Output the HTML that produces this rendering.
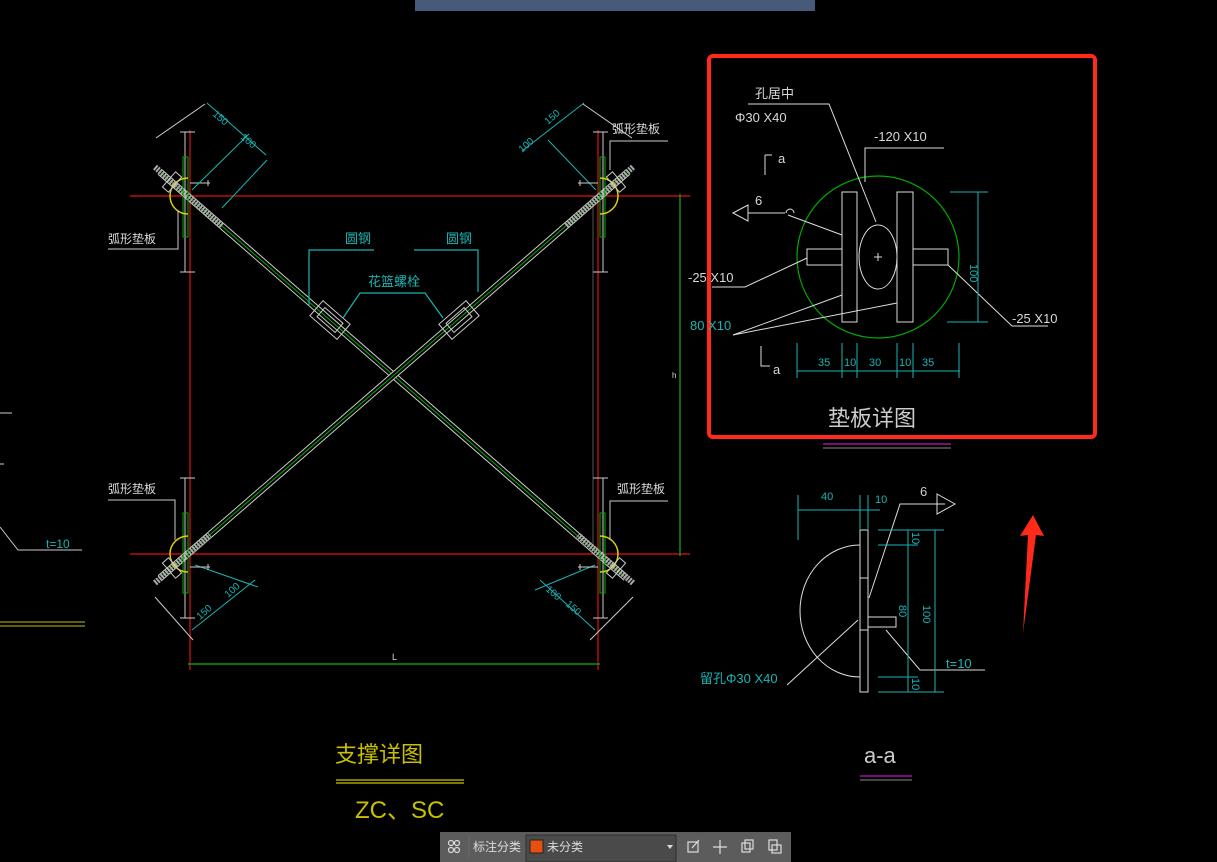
<!DOCTYPE html>
<html><head><meta charset="utf-8"><style>
html,body{margin:0;padding:0;background:#000;width:1217px;height:862px;overflow:hidden}
svg{display:block}
text{font-family:"Liberation Sans Narrow","Liberation Sans","Noto Sans CJK SC",sans-serif}
.c{fill:#19b4b4}.w{fill:#d8d8d8}
</style></head><body>
<svg width="1217" height="862" viewBox="0 0 1217 862" xmlns="http://www.w3.org/2000/svg">
<rect width="1217" height="862" fill="#000"/>
<rect x="415" y="0" width="400" height="11" fill="#475a7a"/>
<g stroke="#e01010" stroke-width="1.2" fill="none">
<line x1="130" y1="196" x2="690" y2="196"/>
<line x1="130" y1="554" x2="690" y2="554"/>
<line x1="190" y1="130" x2="190" y2="670"/>
<line x1="598" y1="130" x2="598" y2="670"/>
</g>
<g stroke="#10b010" stroke-width="1.2">
<line x1="188" y1="664" x2="600" y2="664"/>
<line x1="680" y1="194" x2="680" y2="556"/>
<line x1="593" y1="196" x2="593" y2="554" stroke="#555" stroke-width="1"/>
</g>
<text x="392" y="660" class="w" font-size="9">L</text>
<text x="672" y="378" class="w" font-size="8">h</text>
<g fill="none">
<line x1="160" y1="172" x2="626" y2="578" stroke="#ccc" stroke-width="7"/>
<line x1="160" y1="172" x2="626" y2="578" stroke="#000" stroke-width="5"/>
<line x1="160" y1="172" x2="626" y2="578" stroke="#0a0" stroke-width="1"/>
<line x1="628" y1="172" x2="160" y2="578" stroke="#ccc" stroke-width="7"/>
<line x1="628" y1="172" x2="160" y2="578" stroke="#000" stroke-width="5"/>
<line x1="628" y1="172" x2="160" y2="578" stroke="#0a0" stroke-width="1"/>
<g stroke="#aaa" stroke-width="6" stroke-dasharray="2 1">
<line x1="155" y1="167" x2="222" y2="226"/>
<line x1="633" y1="167" x2="566" y2="226"/>
<line x1="155" y1="583" x2="210" y2="535"/>
<line x1="633" y1="583" x2="578" y2="535"/>
</g>
</g>
<g fill="none" stroke="#ccc" stroke-width="1">
<g transform="translate(330,320) rotate(41)"><rect x="-18" y="-10" width="36" height="20"/><rect x="-12" y="-6" width="24" height="12"/></g>
<g transform="translate(459,320) rotate(-41)"><rect x="-18" y="-10" width="36" height="20"/><rect x="-12" y="-6" width="24" height="12"/></g>
</g>
<g stroke="#19b4b4" stroke-width="1.2" fill="none">
<polyline points="309,305 309,250 374,250"/>
<polyline points="414,250 478,250 478,292"/>
<polyline points="343,318 360,293 425,293 443,318"/>
</g>
<text x="345" y="243" class="c" font-size="13">圆钢</text>
<text x="446" y="243" class="c" font-size="13">圆钢</text>
<text x="368" y="286" class="c" font-size="13">花篮螺栓</text>
<g id="jTL" fill="none" stroke-width="1">
<path d="M185 132V272M180 132H195M180 272H195" stroke="#ccc"/>
<rect x="183" y="157" width="5" height="80" stroke="#0a0"/>
<path d="M188 178A18 18 0 0 0 188 214" stroke="#e0d000" stroke-width="1.5"/>
<path d="M190 183H210M208 180V186" stroke="#ccc"/>
<g transform="translate(172,182) rotate(41)" stroke="#ccc"><rect x="-4" y="-10" width="8" height="20"/></g>
</g>
<g stroke="#19b4b4" stroke-width="1" fill="none">
<line x1="207" y1="103" x2="266" y2="155"/><line x1="192" y1="190" x2="249" y2="134"/><line x1="222" y1="208" x2="267" y2="160"/>
<line x1="584" y1="103" x2="522" y2="151"/><line x1="596" y1="190" x2="548" y2="140"/>
<line x1="195" y1="565" x2="258" y2="587"/><line x1="192" y1="630" x2="255" y2="580"/>
<line x1="595" y1="565" x2="535" y2="590"/><line x1="595" y1="630" x2="540" y2="580"/>
</g>
<g stroke="#ccc" stroke-width="1" fill="none">
<line x1="156" y1="138" x2="205" y2="104"/><line x1="632" y1="138" x2="583" y2="104"/>
<line x1="155" y1="597" x2="193" y2="640"/><line x1="633" y1="597" x2="590" y2="640"/>
</g>
<use href="#jTL" transform="translate(788,0) scale(-1,1)"/>
<use href="#jTL" transform="translate(0,750) scale(1,-1)"/>
<use href="#jTL" transform="translate(788,750) scale(-1,-1)"/>
<g font-size="10" class="c">
<text x="212" y="115" transform="rotate(41 212 115)">150</text>
<text x="240" y="138" transform="rotate(41 240 138)">100</text>
<text x="548" y="125" transform="rotate(-41 548 125)">150</text>
<text x="522" y="153" transform="rotate(-41 522 153)">100</text>
<text x="228" y="598" transform="rotate(-41 228 598)">100</text>
<text x="200" y="620" transform="rotate(-41 200 620)">150</text>
<text x="545" y="590" transform="rotate(41 545 590)">100</text>
<text x="565" y="605" transform="rotate(41 565 605)">150</text>
</g>
<g stroke="#ccc" fill="none" stroke-width="1">
<polyline points="108,249 178,249 178,210"/>
<polyline points="668,141 610,141 610,170"/>
<polyline points="108,500 175,500 175,540"/>
<polyline points="668,501 610,501 610,540"/>
</g>
<g class="w" font-size="12">
<text x="108" y="243">弧形垫板</text>
<text x="612" y="133">弧形垫板</text>
<text x="108" y="493">弧形垫板</text>
<text x="617" y="493">弧形垫板</text>
</g>
<g stroke="#ccc" fill="none" stroke-width="1">
<line x1="0" y1="413" x2="12" y2="413"/><line x1="0" y1="464" x2="4" y2="464"/>
<polyline points="0,527 18,550 82,550"/>
</g>
<text x="46" y="548" class="c" font-size="12">t=10</text>
<line x1="0" y1="622" x2="85" y2="622" stroke="#c8c000"/><line x1="0" y1="626" x2="85" y2="626" stroke="#c8c000"/>
<text x="335" y="762" fill="#c8c000" font-size="22">支撑详图</text>
<line x1="336" y1="780" x2="464" y2="780" stroke="#c8c000" stroke-width="1.3"/>
<line x1="336" y1="783" x2="464" y2="783" stroke="#c8c000" stroke-width="1.3"/>
<text x="355" y="818" fill="#c8c000" font-size="24">ZC、SC</text>
<text x="864" y="763" fill="#ccc" font-size="22">a-a</text>
<line x1="860" y1="776" x2="912" y2="776" stroke="#a010a0" stroke-width="1.5"/>
<line x1="860" y1="780" x2="912" y2="780" stroke="#888"/>
<rect x="709" y="56" width="386" height="381" rx="4" fill="none" stroke="#ff2a1a" stroke-width="4"/>
<circle cx="878" cy="257" r="81" fill="none" stroke="#0a0" stroke-width="1.2"/>
<g fill="none" stroke="#ddd" stroke-width="1">
<rect x="842" y="192" width="15" height="130"/><rect x="897" y="192" width="16" height="130"/>
<ellipse cx="878" cy="257" rx="19" ry="32"/>
<rect x="807" y="249" width="35" height="16"/><rect x="913" y="249" width="35" height="16"/>
<path d="M874 257H882M878 253V261"/>
<polyline points="748,104 829,104 876,222"/>
<polyline points="865,182 865,148 944,148"/>
<polyline points="788,215 842,235"/>
<polyline points="712,287 745,287 807,258"/>
<polyline points="733,335 842,295"/><polyline points="733,335 897,303"/>
<polyline points="948,265 1012,326 1048,326"/>
<path d="M765 155H772M765 155V175"/>
<path d="M761 346V366H770"/>
<path d="M733 213L748 205V221Z M748 213H785"/>
<path d="M786 213A4 4 0 0 1 794 213"/>
</g>
<g stroke="#19b4b4" stroke-width="1" fill="none">
<line x1="978" y1="192" x2="978" y2="322"/><line x1="950" y1="192" x2="988" y2="192"/><line x1="947" y1="322" x2="988" y2="322"/>
<line x1="797" y1="371" x2="960" y2="371"/>
<path d="M797 343V378M842 343V378M857 343V378M897 343V378M913 343V378M959 343V378"/>
</g>
<g class="w" font-size="13"><text x="755" y="98">孔居中</text><text x="735" y="122">Φ30 X40</text><text x="874" y="141">-120 X10</text><text x="688" y="282">-25 X10</text><text x="1012" y="323">-25 X10</text><text x="778" y="163">a</text><text x="773" y="374">a</text><text x="755" y="205">6</text></g>
<text x="690" y="330" class="c" font-size="13">80 X10</text>
<g class="c" font-size="11"><text x="818" y="366">35</text><text x="844" y="366">10</text><text x="869" y="366">30</text><text x="899" y="366">10</text><text x="922" y="366">35</text>
<text x="970" y="264" transform="rotate(90 970 264)">100</text></g>
<text x="828" y="426" fill="#ccc" font-size="22">垫板详图</text>
<line x1="823" y1="444" x2="951" y2="444" stroke="#a010a0" stroke-width="1.5"/>
<line x1="823" y1="448" x2="951" y2="448" stroke="#888"/>
<path d="M1033 515L1020 536L1028 535L1023 633L1036 535L1044 536Z" fill="#ff2a1a"/>
<g fill="none" stroke="#ddd" stroke-width="1">
<rect x="860" y="530" width="8" height="162"/>
<path d="M860 578H868M860 630H868"/>
<path d="M860 545A60 66 0 0 0 860 677"/>
<rect x="868" y="617" width="28" height="10"/>
<polyline points="869,598 900,504 945,504"/>
<path d="M937 494L955 504L937 514Z"/>
<polyline points="787,685 858,620"/>
<polyline points="886,630 920,670 985,670"/>
</g>
<g stroke="#19b4b4" stroke-width="1" fill="none">
<line x1="798" y1="510" x2="880" y2="510"/><path d="M798 495V540M860 495V530M868 495V530"/>
<line x1="908" y1="530" x2="908" y2="692"/><line x1="935" y1="530" x2="935" y2="692"/>
<path d="M878 530H944M878 545H918M878 677H918M878 692H944"/>
</g>
<g class="c" font-size="11"><text x="821" y="500">40</text><text x="875" y="503">10</text>
<text x="912" y="532" transform="rotate(90 912 532)">10</text>
<text x="899" y="605" transform="rotate(90 899 605)">80</text>
<text x="923" y="605" transform="rotate(90 923 605)">100</text>
<text x="912" y="678" transform="rotate(90 912 678)">10</text>
<text x="946" y="668" font-size="13">t=10</text>
<text x="700" y="683" font-size="13">留孔Φ30 X40</text></g>
<text x="920" y="496" fill="#ccc" font-size="13">6</text>
<rect x="440" y="832" width="351" height="30" fill="#5c5c5c"/>
<rect x="526" y="835" width="150" height="27" fill="#4a4a4a" stroke="#2e2e2e"/>
<rect x="530" y="840" width="13" height="13" fill="#e85010" stroke="#222"/>
<line x1="469" y1="836" x2="469" y2="858" stroke="#6a6a6a"/>
<g fill="none" stroke="#ddd" stroke-width="1.2">
<circle cx="451" cy="843" r="2.5"/><circle cx="457" cy="843" r="2.5"/><circle cx="451" cy="850" r="2.5"/><circle cx="457" cy="850" r="2.5"/>
<rect x="688" y="842" width="10" height="10"/><path d="M692 848L699 840"/>
<path d="M720 840V854M713 847H727"/>
<rect x="742" y="843" width="8" height="9"/><rect x="745" y="840" width="8" height="9"/>
<rect x="769" y="840" width="8" height="10"/><rect x="772" y="845" width="9" height="8"/>
</g>
<text x="473" y="851" fill="#ddd" font-size="12">标注分类</text>
<text x="547" y="851" fill="#ddd" font-size="12">未分类</text>
<path d="M667 845L673 845L670 849Z" fill="#ddd"/>
</svg>
</body></html>
